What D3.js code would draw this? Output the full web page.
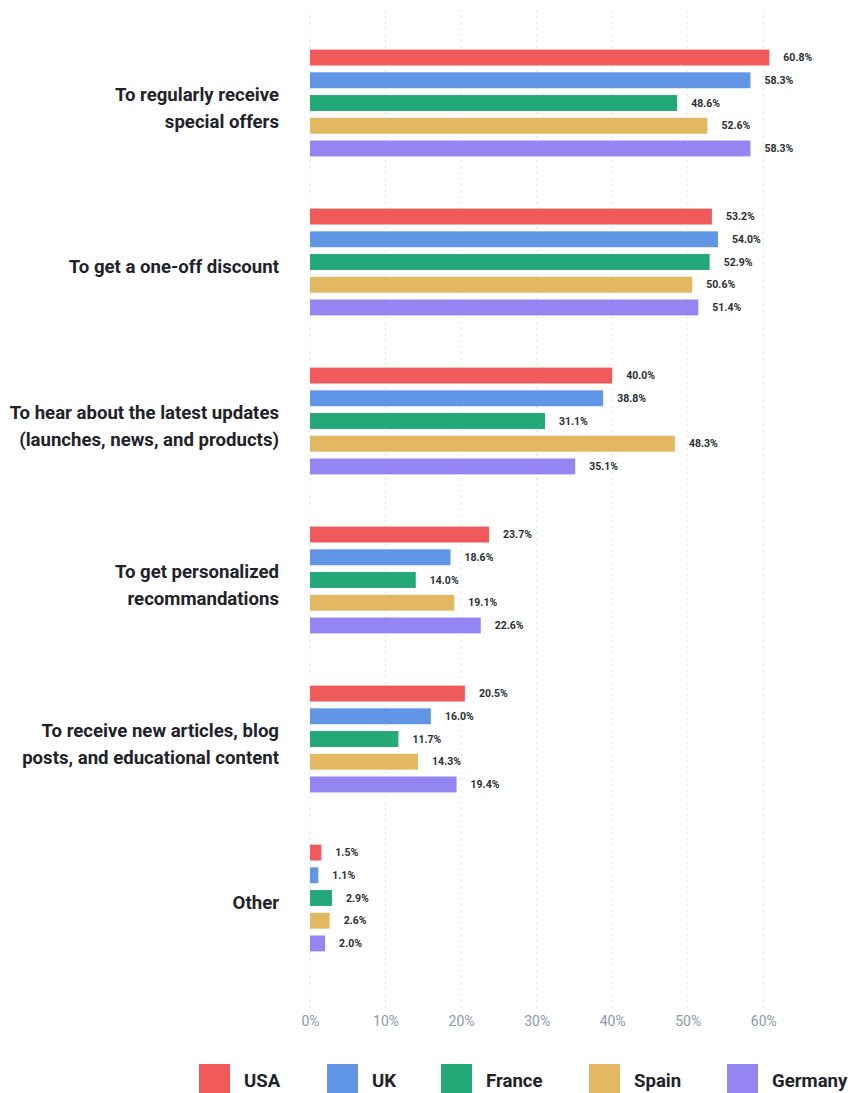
<!DOCTYPE html>
<html><head><meta charset="utf-8">
<script src="https://cdn.jsdelivr.net/npm/d3@7"></script>
<style>body{margin:0;background:#fff;font-family:Roboto,"Noto Sans",sans-serif;}</style>
</head><body><svg id="c" width="851" height="1093"></svg>
<script>
const categories = [
  ["To regularly receive","special offers"],
  ["To get a one-off discount"],
  ["To hear about the latest updates","(launches, news, and products)"],
  ["To get personalized","recommandations"],
  ["To receive new articles, blog","posts, and educational content"],
  ["Other"]
];
const seriesNames = ["USA","UK","France","Spain","Germany"];
const colors = ["#f05a5b","#6196e6","#23a877","#e2b862","#9585f2"];
const usa = [60.8,53.2,40.0,23.7,20.5,1.5];
const uk = [58.3,54.0,38.8,18.6,16.0,1.1];
const france = [48.6,52.9,31.1,14.0,11.7,2.9];
const spain = [52.6,50.6,48.3,19.1,14.3,2.6];
const germany = [58.3,51.4,35.1,22.6,19.4,2.0];
const seriesValues = [usa,uk,france,spain,germany];
const tickValues = [0,10,20,30,40,50,60];

const svg = d3.select("#c");
const x = d3.scaleLinear().domain([0,60]).range([310,763.3]);
const catIdx = categories.map((d,i)=>i);
const y0 = d3.scaleBand().domain(catIdx).range([23.5,977.5]);
const y1 = d3.scaleBand().domain(seriesNames).range([26.1,132.9]).paddingInner(0.3).paddingOuter(0);

// gridlines
svg.append("g").selectAll("line").data(tickValues).join("line")
  .attr("x1",d=>x(d)).attr("x2",d=>x(d)).attr("y1",10).attr("y2",1010)
  .attr("stroke","#dcdfe3").attr("stroke-width",1).attr("stroke-dasharray","2,4");

// axis
const axis = d3.axisBottom(x).tickValues(tickValues).tickFormat(d=>d+"%").tickSize(0).tickPadding(0);
const ag = svg.append("g").attr("transform","translate(0,1016)").call(axis);
ag.select(".domain").remove();
ag.selectAll("text").attr("font-size",14).attr("fill","#8d99a6").attr("font-family","Roboto, sans-serif").attr("dy","0.71em");

// groups
const g = svg.append("g").selectAll("g").data(catIdx).join("g")
  .attr("transform",i=>`translate(0,${y0(i)})`);

g.each(function(i){
  const gg = d3.select(this);
  const rows = seriesNames.map((s,j)=>({s,j,v:seriesValues[j][i]}));
  gg.selectAll("rect").data(rows).join("rect")
    .attr("x",x(0)).attr("y",d=>y1(d.s)).attr("width",d=>x(d.v)-x(0))
    .attr("height",y1.bandwidth()).attr("fill",d=>colors[d.j]);
  gg.selectAll("text.v").data(rows).join("text").attr("class","v")
    .attr("x",d=>x(d.v)+14).attr("y",d=>y1(d.s)+y1.bandwidth()/2)
    .attr("dy","0.35em").attr("font-size",10.5).attr("font-weight",700)
    .attr("fill","#2b2f33").text(d=>d.v.toFixed(1)+"%");
  const lines = categories[i];
  const cy = y0.bandwidth()/2 + 4.5;
  const lh = 27;
  const t = gg.append("text").attr("text-anchor","end").attr("font-size",18.6)
    .attr("font-weight",700).attr("fill","#1f2329");
  lines.forEach((l,k)=>{
    t.append("tspan").attr("x",279).attr("y",cy + (k-(lines.length-1)/2)*lh).attr("dy","0.35em").text(l);
  });
});

// legend
const legX = [199,327,441,589,727];
const lg = svg.append("g").selectAll("g").data(seriesNames).join("g")
  .attr("transform",(d,j)=>`translate(${legX[j]},1064)`);
lg.append("rect").attr("width",31).attr("height",30).attr("fill",(d,j)=>colors[j]);
lg.append("text").attr("x",45).attr("y",16.5).attr("dy","0.35em").attr("font-size",18.6)
  .attr("font-weight",700).attr("fill","#1f2329").text(d=>d);
</script></body></html>
